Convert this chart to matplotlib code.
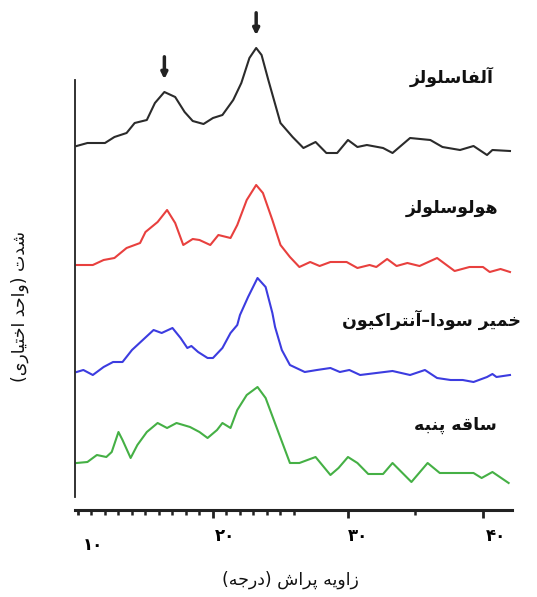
import matplotlib.pyplot as plt
from matplotlib.transforms import ScaledTranslation

# ---- data: diffraction angle (deg) and intensity (arbitrary units) ----
alpha_x = [9.9, 10.7, 12.0, 12.7, 13.6, 14.2, 15.1, 15.7, 16.4, 17.2, 17.9, 18.5, 19.3, 20.0,
           20.7, 21.5, 22.1, 22.7, 23.2, 23.6, 24.1, 25.0, 25.9, 26.7, 27.6, 28.4, 29.2, 30.0,
           30.7, 31.4, 32.6, 33.3, 34.6, 36.1, 37.0, 38.3, 39.3, 40.3, 40.7, 42.0]
alpha_y = [9, 12, 12, 18, 22, 32, 35, 52, 63, 58, 43, 34, 31, 37,
           40, 55, 72, 97, 107, 100, 75, 32, 18, 7, 13, 2, 2, 15,
           8, 10, 7, 2, 17, 15, 8, 5, 9, 0, 5, 4]

holo_x = [9.9, 11.1, 11.9, 12.7, 13.6, 14.6, 15.0, 15.9, 16.6, 17.2, 17.8, 18.5, 19.0, 19.8,
          20.4, 21.3, 21.8, 22.5, 23.2, 23.7, 24.4, 25.0, 25.7, 26.4, 27.2, 27.9, 28.7, 29.9,
          30.7, 31.6, 32.1, 32.9, 33.6, 34.4, 35.3, 36.6, 37.3, 37.9, 39.0, 40.0, 40.5, 41.3, 42.0]
holo_y = [7, 7, 12, 14, 24, 29, 40, 50, 62, 49, 27, 33, 32, 27,
          37, 34, 47, 72, 87, 79, 52, 27, 15, 5, 10, 6, 10, 10,
          4, 7, 5, 13, 6, 9, 6, 14, 7, 1, 5, 5, 0, 3, 0]

pulp_x = [9.9, 10.4, 11.1, 11.9, 12.6, 13.3, 14.0, 14.8, 15.6, 16.2, 17.0, 17.6, 18.1, 18.4,
          18.9, 19.6, 20.0, 20.7, 21.3, 21.8, 22.0, 22.6, 23.3, 23.9, 24.4, 24.6, 25.1, 25.7,
          26.8, 27.7, 28.7, 29.4, 30.1, 30.9, 32.1, 33.3, 34.6, 35.7, 36.6, 37.6, 38.5, 39.3,
          40.3, 40.7, 41.0, 42.0]
pulp_y = [10, 12, 7, 15, 20, 20, 32, 42, 52, 49, 54, 44, 34, 36,
          30, 24, 24, 34, 49, 57, 67, 85, 104, 95, 69, 55, 32, 17,
          10, 12, 14, 10, 12, 7, 9, 11, 7, 12, 4, 2, 2, 0,
          5, 8, 5, 7]

stalk_x = [9.9, 10.7, 11.4, 12.1, 12.5, 13.0, 13.3, 13.9, 14.4, 15.1, 15.9, 16.6, 17.3, 18.3,
           19.0, 19.6, 20.3, 20.7, 21.3, 21.8, 22.5, 23.3, 23.9, 24.7, 25.7, 26.4, 27.6, 28.7,
           29.3, 30.0, 30.7, 31.5, 32.6, 33.3, 34.7, 35.9, 36.8, 39.3, 39.9, 40.7, 41.9]
stalk_y = [20, 21, 28, 26, 31, 51, 43, 25, 38, 51, 60, 55, 60, 56,
           51, 45, 53, 60, 55, 73, 88, 96, 85, 56, 20, 20, 26, 8,
           15, 26, 20, 9, 9, 20, 1, 20, 10, 10, 5, 11, 0]

names = ['آلفاسلولز', 'هولوسلولز', 'خمیر سودا–آنتراکیون', 'ساقه پنبه']
tick_vals = [10, 20, 30, 40]
tick_labels = ['۱۰', '۲۰', '۳۰', '۴۰']
xlabel = 'زاویه پراش (درجه)'
ylabel = 'شدت (واحد اختیاری)'

# ---- minimal Persian shaping (matplotlib has no bidi / joining) ----
DUAL = {
    'ب': 'ﺏﺐﺑﺒ', 'پ': 'ﭖﭗﭘﭙ', 'ت': 'ﺕﺖﺗﺘ', 'ج': 'ﺝﺞﺟﺠ', 'ح': 'ﺡﺢﺣﺤ', 'خ': 'ﺥﺦﺧﺨ',
    'س': 'ﺱﺲﺳﺴ', 'ش': 'ﺵﺶﺷﺸ', 'ف': 'ﻑﻒﻓﻔ', 'ق': 'ﻕﻖﻗﻘ', 'ک': 'ﮎﮏﮐﮑ', 'ل': 'ﻝﻞﻟﻠ',
    'م': 'ﻡﻢﻣﻤ', 'ن': 'ﻥﻦﻧﻨ', 'ه': 'ﻩﻪﻫﻬ', 'ی': 'ﯼﯽﯾﯿ',
}
RIGHT = {'ا': 'ﺍﺎ', 'آ': 'ﺁﺂ', 'د': 'ﺩﺪ', 'ر': 'ﺭﺮ', 'ز': 'ﺯﺰ', 'و': 'ﻭﻮ'}


def fa(s):
    out = []
    for i, c in enumerate(s):
        prev = s[i - 1] if i > 0 else ''
        nxt = s[i + 1] if i + 1 < len(s) else ''
        jp = prev in DUAL
        if c in DUAL:
            jn = nxt in DUAL or nxt in RIGHT
            out.append(DUAL[c][(3 if jn else 1) if jp else (2 if jn else 0)])
        elif c in RIGHT:
            out.append(RIGHT[c][1 if jp else 0])
        else:
            out.append(c)
    mirror = {'(': ')', ')': '('}
    return ''.join(mirror.get(c, c) for c in reversed(out))


# ---- figure ----
fig = plt.figure(figsize=(5.37, 5.97), dpi=100)
ax = fig.add_axes([75 / 537, 87 / 597, 437 / 537, 510 / 597])

series = [(alpha_x, alpha_y, 355, '#2b2b2b'),
          (holo_x, holo_y, 238, '#e8403e'),
          (pulp_x, pulp_y, 128, '#3c3ce0'),
          (stalk_x, stalk_y, 27, '#45b045')]

for x, y, off, col in series:
    ax.plot(x, [v + off for v in y], color=col, lw=1.5)

ax.set_xlim(9.78, 42.15)
ax.set_ylim(0, 510)

# curve names
name_pos = [(452, 77), (452, 208), (432, 320), (455, 425)]
for nm, (px, py) in zip(names, name_pos):
    fig.text(px / 537, 1 - py / 597, fa(nm), ha='center', va='center',
             fontsize=12.5, fontweight='bold', family='DejaVu Sans', color='#111')

# peak arrows on alpha-cellulose
for lo, hi in [(15, 18), (22, 24.5)]:
    pk = max((v, xx) for xx, v in zip(alpha_x, alpha_y) if lo <= xx <= hi)
    ax.annotate('', xy=(pk[1], pk[0] + 355 + 10), xytext=(pk[1], pk[0] + 355 + 38),
                arrowprops=dict(arrowstyle='-|>', lw=2.5, color='#222', mutation_scale=9),
                annotation_clip=False)

# axes styling
for s in ['top', 'right']:
    ax.spines[s].set_visible(False)
ax.spines['left'].set_bounds(13, 430)
ax.spines['left'].set_linewidth(1.3)
ax.spines['left'].set_color('#222')
ax.spines['bottom'].set_linewidth(2.2)
ax.spines['bottom'].set_color('#222')
ax.set_yticks([])

ax.set_xticks(tick_vals)
ax.set_xticklabels(tick_labels, fontsize=12, fontweight='bold', family='DejaVu Sans')
ax.set_xticks(list(range(10, 27)) + [35], minor=True)
ax.tick_params(axis='x', which='major', length=6, width=2, direction='out', color='#222', pad=6)
ax.tick_params(axis='x', which='minor', length=3.5, width=1.8, direction='out', color='#222')
ax.xaxis.get_major_ticks()[0].tick1line.set_markersize(3.5)
shifts = [(15, -9), (12, 0), (10, 0), (13, 0)]
for lab, (dx, dy) in zip(ax.get_xticklabels(), shifts):
    lab.set_transform(lab.get_transform() + ScaledTranslation(dx / 100, dy / 100, fig.dpi_scale_trans))

fig.text(290 / 537, 1 - 580 / 597, fa(xlabel), ha='center', va='center',
         fontsize=12.5, family='DejaVu Sans', color='#111')
fig.text(20 / 537, 1 - 306 / 597, fa(ylabel), ha='center', va='center', rotation=90,
         fontsize=12.5, family='DejaVu Sans', color='#111')

fig.savefig('out.png', dpi=100)
